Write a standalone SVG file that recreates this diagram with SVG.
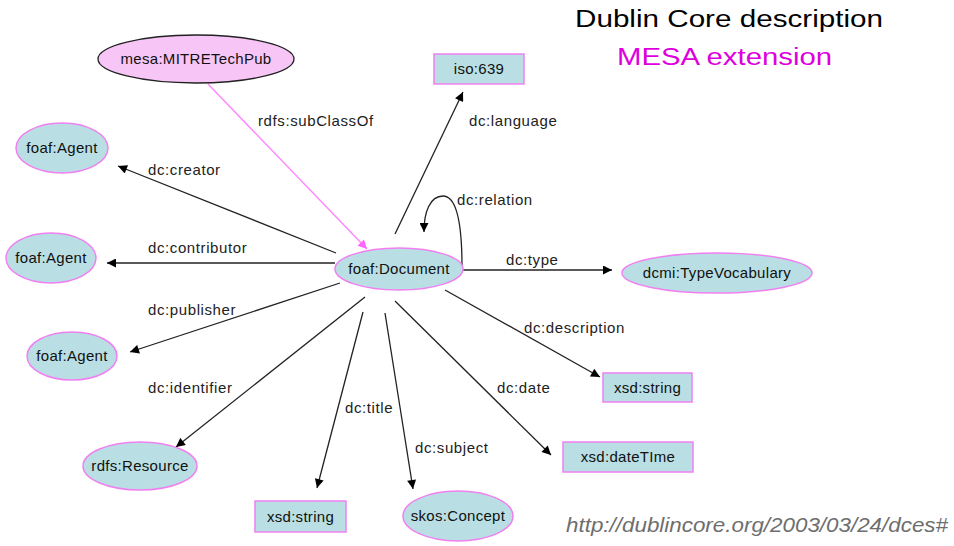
<svg xmlns="http://www.w3.org/2000/svg" width="954" height="546" viewBox="0 0 954 546">
<defs>
<marker id="ah" viewBox="0 0 10 10" refX="10" refY="5" markerWidth="11" markerHeight="9" markerUnits="userSpaceOnUse" orient="auto"><path d="M0,0 L10,5 L0,10 z" fill="#000"/></marker>
<marker id="ahp" viewBox="0 0 10 10" refX="10" refY="5" markerWidth="11" markerHeight="9" markerUnits="userSpaceOnUse" orient="auto"><path d="M0,0 L10,5 L0,10 z" fill="#ff66ff"/></marker>
</defs>
<style>
.n{fill:#b9dfe4;stroke:#f080f0;stroke-width:1.5}
.m{fill:#f7c6f7;stroke:#222;stroke-width:1.3}
.t{font-family:"Liberation Sans",Arial,sans-serif;font-size:15px;letter-spacing:0.3px;fill:#111;text-anchor:middle}
.l{font-family:"Liberation Sans",Arial,sans-serif;font-size:15px;letter-spacing:0.6px;fill:#222}
.e{fill:none;stroke:#222;stroke-width:1.3;marker-end:url(#ah)}
.p{fill:none;stroke:#ff88ff;stroke-width:1.5;marker-end:url(#ahp)}
</style>
<rect width="954" height="546" fill="#fff"/>
<g id="connectors">
<line class="p" x1="208" y1="84" x2="367" y2="249"/>
<line class="e" x1="336" y1="253" x2="118" y2="166"/>
<line class="e" x1="335" y1="263" x2="107" y2="263"/>
<line class="e" x1="340" y1="283" x2="130" y2="352"/>
<line class="e" x1="365" y1="297" x2="176" y2="447"/>
<line class="e" x1="363" y1="312" x2="317" y2="488"/>
<line class="e" x1="385" y1="313" x2="413" y2="489"/>
<line class="e" x1="395" y1="301" x2="551" y2="455"/>
<line class="e" x1="445" y1="290" x2="600" y2="377"/>
<line class="e" x1="463" y1="270" x2="612" y2="270"/>
<line class="e" x1="395" y1="234" x2="463" y2="92"/>
<path class="e" d="M462,267 C462,230 458,196 443,196 C430,196 424,212 424,232"/>
<text class="l" x="258" y="126">rdfs:subClassOf</text>
<text class="l" x="148" y="175">dc:creator</text>
<text class="l" x="148" y="253">dc:contributor</text>
<text class="l" x="148" y="315">dc:publisher</text>
<text class="l" x="148" y="393">dc:identifier</text>
<text class="l" x="345" y="413">dc:title</text>
<text class="l" x="415" y="453">dc:subject</text>
<text class="l" x="497" y="393">dc:date</text>
<text class="l" x="524" y="333">dc:description</text>
<text class="l" x="506" y="265">dc:type</text>
<text class="l" x="469" y="126">dc:language</text>
<text class="l" x="457" y="205">dc:relation</text>
</g>
<g id="mesa"><ellipse class="m" cx="196" cy="59" rx="98" ry="24"/><text class="t" x="196" y="64">mesa:MITRETechPub</text></g>
<g id="doc"><ellipse class="n" cx="399" cy="269" rx="64" ry="21"/><text class="t" x="399" y="274">foaf:Document</text></g>
<g id="agent1"><ellipse class="n" cx="62" cy="148" rx="46" ry="25"/><text class="t" x="62" y="153">foaf:Agent</text></g>
<g id="agent2"><ellipse class="n" cx="51" cy="258" rx="45" ry="25"/><text class="t" x="51" y="263">foaf:Agent</text></g>
<g id="agent3"><ellipse class="n" cx="72" cy="356" rx="45" ry="24"/><text class="t" x="72" y="361">foaf:Agent</text></g>
<g id="resource"><ellipse class="n" cx="140" cy="466" rx="57" ry="24"/><text class="t" x="140" y="471">rdfs:Resource</text></g>
<g id="string1"><rect class="n" x="255" y="501" width="91" height="31"/><text class="t" x="300.5" y="522">xsd:string</text></g>
<g id="concept"><ellipse class="n" cx="458" cy="516" rx="55" ry="25"/><text class="t" x="458" y="521">skos:Concept</text></g>
<g id="datetime"><rect class="n" x="563" y="442" width="130" height="30"/><text class="t" x="628" y="462">xsd:dateTIme</text></g>
<g id="string2"><rect class="n" x="603" y="373" width="89" height="29"/><text class="t" x="647.5" y="393">xsd:string</text></g>
<g id="typevocab"><ellipse class="n" cx="717" cy="273" rx="95" ry="20"/><text class="t" x="717" y="278">dcmi:TypeVocabulary</text></g>
<g id="iso"><rect class="n" x="434" y="54" width="90" height="30"/><text class="t" x="479" y="74">iso:639</text></g>
<g id="titles">
<text x="575" y="27" font-family="Liberation Sans,Arial,sans-serif" font-size="23" fill="#000" textLength="308" lengthAdjust="spacingAndGlyphs">Dublin Core description</text>
<text x="617" y="65" font-family="Liberation Sans,Arial,sans-serif" font-size="23" fill="#dd00dd" textLength="215" lengthAdjust="spacingAndGlyphs">MESA extension</text>
<text x="566" y="532" font-family="Liberation Sans,Arial,sans-serif" font-size="20" font-style="italic" fill="#6e6e6e" textLength="382" lengthAdjust="spacingAndGlyphs">http://dublincore.org/2003/03/24/dces#</text>
</g>
</svg>
